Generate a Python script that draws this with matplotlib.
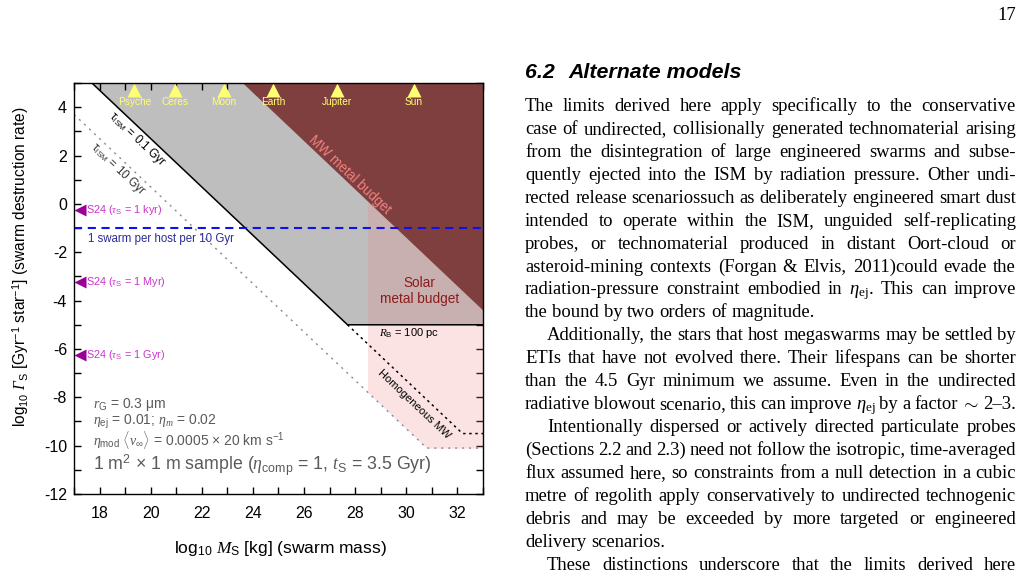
import matplotlib
matplotlib.use("Agg")
import matplotlib.pyplot as plt
import numpy as np
from matplotlib.patches import Rectangle
from matplotlib.ticker import MultipleLocator

plt.rcParams.update({
    "font.family": ["Liberation Sans", "DejaVu Sans"],
    "mathtext.fontset": "custom",
    "mathtext.rm": "Liberation Sans",
    "mathtext.it": "Liberation Serif:italic",
    "mathtext.bf": "Liberation Sans:bold",
    "mathtext.cal": "Liberation Serif:italic",
    "axes.unicode_minus": False,
})

# ---------------- data ----------------
body_names = ["Psyche", "Ceres", "Moon", "Earth", "Jupiter", "Sun"]
body_logmass = [19.36, 20.97, 22.87, 24.78, 27.28, 30.30]

s24_labels = ["1 kyr", "1 Myr", "1 Gyr"]
s24_rate = [-0.24, -3.24, -6.24]

tau01_mass = [17.0, 27.7, 33.0]
tau01_rate = [5.7, -5.0, -5.0]
tau10_mass = [17.0, 30.8, 33.0]
tau10_rate = [3.7, -10.1, -10.1]
homog_mass = [27.7, 32.2, 33.0]
homog_rate = [-5.0, -9.5, -9.5]
mw_mass = [22.6, 33.0]
mw_rate = [6.0, -4.4]
solar_min_mass = 28.5
host_rate = -1.0

x_ticks = [18, 20, 22, 24, 26, 28, 30, 32]
y_ticks = [-12, -10, -8, -6, -4, -2, 0, 2, 4]
x_range = (17, 33)
y_range = (-12, 5)

W, H = 1029, 577
fig = plt.figure(figsize=(W / 100, H / 100), dpi=100)
ax_l, ax_r, ax_t, ax_b = 74, 483, 83, 494
ax = fig.add_axes([ax_l / W, 1 - ax_b / H, (ax_r - ax_l) / W, (ax_b - ax_t) / H])
ax.set_xlim(*x_range)
ax.set_ylim(*y_range)

# fills
ax.fill_between(tau01_mass, tau01_rate, 6, color="#bebebe", lw=0, zorder=1)
pink = ax.fill_between(tau10_mass, tau10_rate, 6, color="#f08080", alpha=0.22, lw=0, zorder=2)
pink.set_clip_path(Rectangle((solar_min_mass, y_range[0]), x_range[1] - solar_min_mass,
                             y_range[1] - y_range[0], transform=ax.transData))
ax.fill_between(mw_mass, mw_rate, 6, color="#7f3f3f", lw=0, zorder=3)

# lines
ax.plot(tau01_mass, tau01_rate, color="k", lw=1.1, zorder=4)
ax.plot(homog_mass, homog_rate, color="k", lw=1.1, ls=(0, (1.6, 2.4)), zorder=4)
ax.plot(tau10_mass, tau10_rate, color="#8a8a8a", lw=1.0, ls=(0, (1.5, 3.5)), zorder=4)
ax.axhline(host_rate, color="#1010ee", lw=1.5, ls=(0, (3.9, 2.7)), zorder=6)

# bodies along the top
xt = ax.get_xaxis_transform()
ax.plot(body_logmass, [0.983] * len(body_logmass), "^", color="#ffff73", ms=9.5,
        mec="none", transform=xt, clip_on=False, zorder=7)
for name, m in zip(body_names, body_logmass):
    ax.text(m, 0.953, name, transform=xt, ha="center", va="center",
            fontsize=7.3, color="#ffff73", zorder=7)

# S24 markers on left
yt = ax.get_yaxis_transform()
ax.plot([0.0147] * len(s24_rate), s24_rate, "<", color="#990099", ms=8,
        mec="none", transform=yt, clip_on=False, zorder=7)
for lab, r in zip(s24_labels, s24_rate):
    ax.text(0.029, r, r"S24 ($\tau_\mathrm{S}$ = " + lab + ")", transform=yt,
            ha="left", va="center", fontsize=7.8, color="#cc33cc", zorder=7)

ax.text(0.034, -1.45, "1 swarm per host per 10 Gyr", transform=yt, ha="left",
        va="center", fontsize=8.3, color="#2a2a9a", zorder=7)

# rotated labels
rot = dict(rotation=-45, transform_rotates_text=True, rotation_mode="anchor",
           ha="center", va="center", zorder=7)
ax.text(19.46, 2.68, r"τ$_\mathrm{ISM}$ = 0.1 Gyr", fontsize=8.5, color="k", **rot)
ax.text(18.73, 1.44, r"τ$_\mathrm{ISM}$ = 10 Gyr", fontsize=8.5, color="#333333", **rot)
ax.text(27.8, 1.2, "MW metal budget", fontsize=9.8, color="#f08080", **rot)
ax.text(30.3, -8.3, "Homogeneous MW", fontsize=8, color="k", **rot)

ax.text(30.5, -3.6, "Solar\nmetal budget", ha="center", va="center",
        fontsize=9.8, color="#8b1c1c", zorder=7)
ax.text(30.1, -5.32, r"$R_\mathrm{B}$ = 100 pc", ha="center", va="center",
        fontsize=8, color="k", zorder=7)

grey = "#5a5a5a"
ax.text(17.75, -8.28, r"$r_\mathrm{G}$ = 0.3 μm", fontsize=10, color=grey, va="center", zorder=7)
ax.text(17.75, -9.03, r"$\eta_\mathrm{ej}$ = 0.01; $\eta_m$ = 0.02", fontsize=10,
        color=grey, va="center", zorder=7)
ax.text(17.75, -9.78, r"$\eta_\mathrm{mod}$ $\langle v_\infty\rangle$ = 0.0005 × 20 km s$^\mathrm{-1}$",
        fontsize=10, color=grey, va="center", zorder=7)
ax.text(17.75, -10.82, r"1 m$^\mathrm{2}$ × 1 m sample ($\eta_\mathrm{comp}$ = 1, $t_\mathrm{S}$ = 3.5 Gyr)",
        fontsize=12.8, color=grey, va="center", zorder=7)

# ticks
ax.set_xticks(x_ticks)
ax.set_yticks(y_ticks)
ax.xaxis.set_minor_locator(MultipleLocator(1))
ax.yaxis.set_minor_locator(MultipleLocator(1))
ax.tick_params(which="both", direction="in", top=True, right=True, length=5, width=1)
ax.tick_params(axis="x", labelsize=11.5, pad=9)
ax.tick_params(axis="y", labelsize=11.5, pad=5)
for s in ax.spines.values():
    s.set_linewidth(1)
    s.set_zorder(8)

fig.text(21 / W, 1 - 267 / H,
         r"log$_\mathrm{10}$ $\mathcal{\Gamma}_\mathrm{S}$ [Gyr$^\mathrm{-1}$ star$^\mathrm{-1}$] (swarm destruction rate)",
         rotation=90, ha="center", va="center", fontsize=11.2)
fig.text(280 / W, 1 - 548 / H, r"log$_\mathrm{10}$ $M_\mathrm{S}$ [kg] (swarm mass)",
         ha="center", va="center", fontsize=12.5)

# ---------------- page text column ----------------
renderer = fig.canvas.get_renderer()
serif = ["Liberation Serif", "DejaVu Serif"]

def width_of(s, size, **kw):
    t = fig.text(0, 0, s, fontsize=size, **kw)
    w = t.get_window_extent(renderer).width
    t.remove()
    return w

x_left, x_right, indent = 525, 1016, 22
body_size = 10 * (x_right - x_left - 4) / width_of(
    "case of undirected, collisionally generated technomaterial arising", 10, family=serif)
head_size = 10 * 174 / width_of("Alternate models", 10, weight="bold", style="italic")

fig.text(1016 / W, 1 - 20 / H, "17", fontsize=body_size, family=serif, ha="right", va="baseline")
fig.text(525 / W, 1 - 77.5 / H, "6.2", fontsize=head_size, weight="bold", style="italic", va="baseline")
fig.text(568 / W, 1 - 77.5 / H, "Alternate models", fontsize=head_size, weight="bold",
         style="italic", va="baseline")

ej = r"$\eta_{\mathregular{ej}}$"
body_lines = [
    ("The limits derived here apply specifically to the conservative", True, False),
    ("case of undirected, collisionally generated technomaterial arising", True, False),
    ("from the disintegration of large engineered swarms and subse-", True, False),
    ("quently ejected into the ISM by radiation pressure. Other undi-", True, False),
    ("rected release scenariossuch as deliberately engineered smart dust", True, False),
    ("intended to operate within the ISM, unguided self-replicating", True, False),
    ("probes, or technomaterial produced in distant Oort-cloud or", True, False),
    ("asteroid-mining contexts (Forgan & Elvis, 2011)could evade the", True, False),
    ("radiation-pressure constraint embodied in " + ej + ". This can improve", True, False),
    ("the bound by two orders of magnitude.", False, False),
    ("Additionally, the stars that host megaswarms may be settled by", True, True),
    ("ETIs that have not evolved there. Their lifespans can be shorter", True, False),
    ("than the 4.5 Gyr minimum we assume. Even in the undirected", True, False),
    ("radiative blowout scenario, this can improve " + ej + r" by a factor $\sim$ 2–3.", True, False),
    ("Intentionally dispersed or actively directed particulate probes", True, True),
    ("(Sections 2.2 and 2.3) need not follow the isotropic, time-averaged", True, False),
    ("flux assumed here, so constraints from a null detection in a cubic", True, False),
    ("metre of regolith apply conservatively to undirected technogenic", True, False),
    ("debris and may be exceeded by more targeted or engineered", True, False),
    ("delivery scenarios.", False, False),
    ("These distinctions underscore that the limits derived here", True, True),
]

base0, lead = 111, 22.93
space_w = width_of("a b", body_size, family=serif) - width_of("ab", body_size, family=serif)
for i, (line, just, ind) in enumerate(body_lines):
    y = base0 + lead * i
    x0 = x_left + (indent if ind else 0)
    words = line.split(" ")
    texts = [fig.text(0, 0, w, fontsize=body_size, family=serif, va="baseline", ha="left")
             for w in words]
    widths = [t.get_window_extent(renderer).width for t in texts]
    if just and len(words) > 1:
        gap = (x_right - x0 - sum(widths)) / (len(words) - 1)
    else:
        gap = space_w
    x = x0
    for t, w in zip(texts, widths):
        t.set_position((x / W, 1 - y / H))
        x += w + gap

fig.savefig("out.png", dpi=100)
